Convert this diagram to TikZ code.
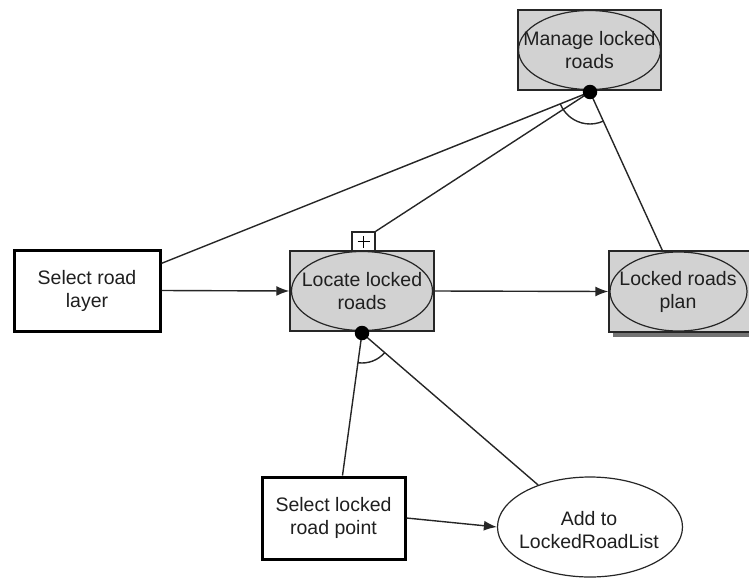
\documentclass[tikz,border=0pt]{standalone}
\usepackage{fontspec}
\setmainfont{Liberation Sans}
\usetikzlibrary{arrows.meta,shapes.geometric}
\begin{document}
\begin{tikzpicture}[x=1pt,y=-1pt,
  lbl/.style={font=\fontsize{19.5}{23}\selectfont, align=center, text=black!88, inner sep=0pt},
  plainbox/.style={draw=black, line width=3pt, fill=white, inner sep=0pt, lbl},
  graybox/.style={draw=black!85, line width=1.4pt, fill=gray!35, inner sep=0pt},
  shade/.style={fill=black!55, inner sep=0pt},
  oval/.style={ellipse, draw=black!85, line width=1.2pt, inner sep=0pt},
  link/.style={draw=black!85, line width=1.4pt},
  flow/.style={link, -{Latex[length=13pt,width=10pt]}},
  joint/.style={circle, fill=black, inner sep=0pt, minimum size=14.5pt}]
\useasboundingbox (0,0) rectangle (749,578);

% composite task: manage locked roads
\node[graybox, minimum width=143, minimum height=80] (mbox) at (589.5,50) {};
\node[oval, minimum width=142, minimum height=79] (manage) at (589.5,50) {};
\node[lbl] (manage-t) at (589.5,50) {Manage locked\\roads};

% plain input task
\node[plainbox, minimum width=146, minimum height=81] (layer) at (87,290.5) {Select road\\layer};

% locate locked roads, with its expand marker
\node[graybox, minimum width=144, minimum height=80] (lbox) at (362,291) {};
\node[oval, minimum width=141, minimum height=79] (locate) at (362,291) {};
\node[lbl] (locate-t) at (362,291) {Locate locked\\roads};
\node[draw=black!85, line width=1.3pt, fill=white, minimum width=23, minimum height=19, inner sep=0pt] (plus) at (363.5,241.5) {};
\draw[line width=1.3pt] ([xshift=-6pt]plus.center) -- ([xshift=6pt]plus.center);
\draw[line width=1.3pt] ([yshift=-6pt]plus.center) -- ([yshift=6pt]plus.center);

% locked roads plan, with drop shadow
\node[shade, minimum width=143, minimum height=81] (pshade) at (684.5,296) {};
\node[graybox, minimum width=143, minimum height=81] (pbox) at (680.5,291.5) {};
\node[oval, minimum width=137, minimum height=79] (plan) at (678.5,291.5) {};
\node[lbl] (plan-t) at (678,291.5) {Locked roads\\plan};

% lower tasks
\node[plainbox, minimum width=143, minimum height=82] (point) at (333.5,518) {Select locked\\road point};
\node[oval, fill=white, minimum width=185, minimum height=100] (add) at (590,527) {};
\node[lbl] (add-t) at (589,530) {Add to\\LockedRoadList};

% junction points
\coordinate (mj) at (590,92);
\coordinate (lj) at (362,333);

% flows
\draw[flow] (layer.east) -- (lbox.west);
\draw[flow] (lbox.east) -- (pbox.west);
\draw[flow] (point.east) -- (add.west);

% decomposition links
\draw[link] (layer.20) -- (mj);
\draw[link] (plus.north east) -- (mj);
\draw[link] (mj) -- ([xshift=54pt]pbox.north west);
\draw[link] (mj) ++(158:32) arc[start angle=158, end angle=65, radius=32];

\draw[link] (lj) -- ([xshift=9pt]point.north);
\draw[link] (lj) -- (add.141);
\draw[link] (lj) ++(97.5:30) arc[start angle=97.5, end angle=40.8, radius=30];

\node[joint] (mdot) at (mj) {};
\node[joint] (ldot) at (lj) {};
\end{tikzpicture}
\end{document}
